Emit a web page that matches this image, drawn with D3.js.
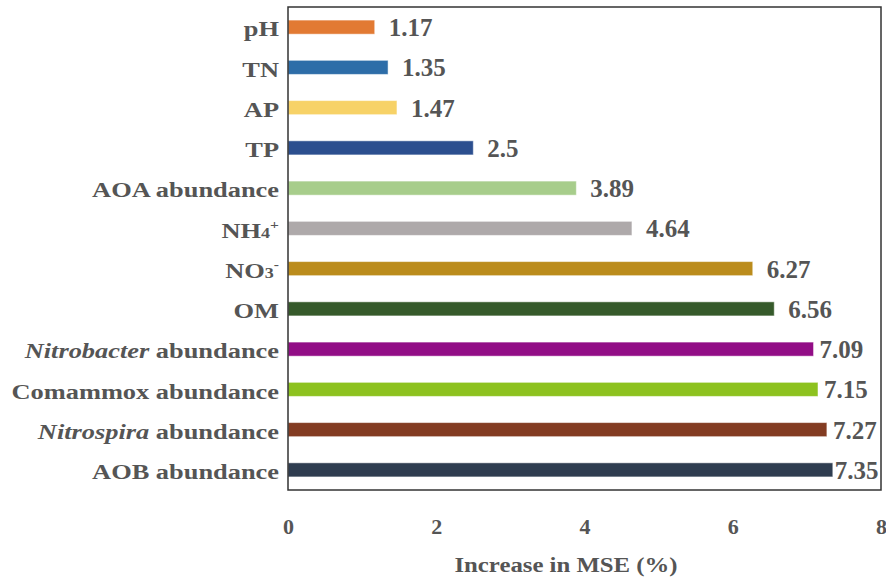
<!DOCTYPE html>
<html><head><meta charset="utf-8">
<script src="https://cdn.jsdelivr.net/npm/d3@7"></script>
<style>body{margin:0;background:#fff}text{font-family:"Liberation Serif","Times New Roman",serif;font-weight:bold;fill:#555}</style>
</head><body><svg id="c" width="886" height="579"></svg>
<script>
const categories=["pH","TN","AP","TP","AOA abundance","NH4+","NO3-","OM","Nitrobacter abundance","Comammox abundance","Nitrospira abundance","AOB abundance"];
const values=[1.17,1.35,1.47,2.5,3.89,4.64,6.27,6.56,7.09,7.15,7.27,7.35];
const valueLabels=["1.17","1.35","1.47","2.5","3.89","4.64","6.27","6.56","7.09","7.15","7.27","7.35"];
const colors=["#E27A33","#2D6DA8","#F7D267","#2C4F8F","#A7CD8B","#AEA9AA","#BB8C1C","#365A2B","#920D86","#8DC21F","#833C22","#2F3D50"];
const xTicks=[0,2,4,6,8];
const xTitle="Increase in MSE (%)";

const svg=d3.select("#c");
const m={l:288,r:881,t:7,b:490};
const x=d3.scaleLinear().domain([0,8]).range([m.l,m.r]);
const y=d3.scaleBand().domain(categories).range([m.t,m.b]).paddingInner(0.65).paddingOuter(0.325);

svg.selectAll("rect.bar").data(categories).join("rect").attr("class","bar")
 .attr("x",x(0)).attr("y",d=>y(d)).attr("height",y.bandwidth())
 .attr("width",(d,i)=>x(values[i])-x(0)).attr("fill",(d,i)=>colors[i])
 .attr("stroke","#fff").attr("stroke-opacity",0.5).attr("stroke-width",1);

svg.selectAll("text.val").data(categories).join("text").attr("class","val")
 .attr("x",(d,i)=>x(values[i])+ (values[i]>7.3?2:values[i]>7?6:14)).attr("y",d=>y(d)+y.bandwidth()/2).attr("dy","0.36em")
 .attr("font-size",25).text((d,i)=>valueLabels[i]);

// category labels (horizontally stretched as in the reference)
const lab=svg.selectAll("text.cat").data(categories).join("text").attr("class","cat")
 .attr("transform",d=>`translate(${m.l-9},${y(d)+y.bandwidth()/2}) scale(1.2,1)`)
 .attr("dy","0.42em").attr("text-anchor","end").attr("font-size",22);
lab.each(function(d){
 const t=d3.select(this);
 if(d==="NH4+"){t.append("tspan").text("NH");t.append("tspan").attr("font-size",15).text("4");t.append("tspan").attr("font-size",13).attr("dy",-9).text("+");}
 else if(d==="NO3-"){t.append("tspan").text("NO");t.append("tspan").attr("font-size",15).text("3");t.append("tspan").attr("font-size",13).attr("dy",-9).text("-");}
 else if(d.startsWith("Nitrobacter")||d.startsWith("Nitrospira")){const p=d.split(" ");t.append("tspan").attr("font-style","italic").text(p[0]);t.append("tspan").text(" "+p[1]);}
 else t.text(d);
});

// axis
const ax=svg.append("g").attr("transform",`translate(0,${m.b})`).call(d3.axisBottom(x).tickValues(xTicks).tickSize(0).tickPadding(28).tickFormat(d3.format("d")));
ax.select(".domain").remove();
ax.selectAll("text").attr("font-size",22).attr("fill","#555").attr("font-family","Liberation Serif, serif").attr("font-weight","bold");

svg.append("rect").attr("x",m.l).attr("y",m.t).attr("width",m.r-m.l).attr("height",m.b-m.t).attr("fill","none").attr("stroke","#333").attr("stroke-width",1.5);

svg.append("text").attr("transform","translate(566,572) scale(1.18,1)").attr("text-anchor","middle").attr("font-size",21).text(xTitle);
</script></body></html>
